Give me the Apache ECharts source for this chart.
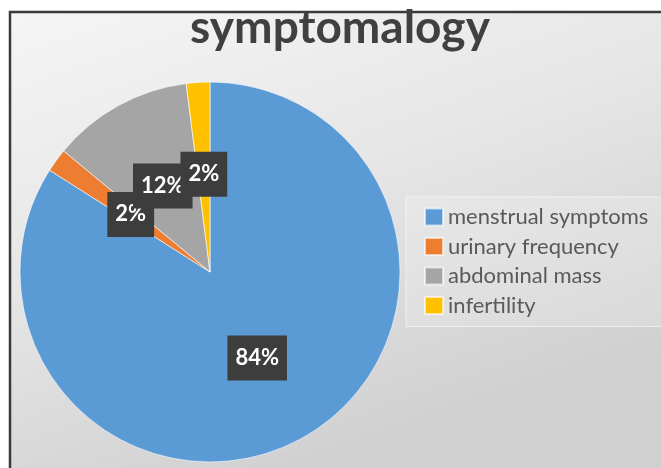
<!DOCTYPE html>
<html>
<head>
<meta charset="utf-8">
<script src="https://cdn.jsdelivr.net/npm/echarts@6/dist/echarts.min.js"></script>
<style>
  html, body { margin: 0; padding: 0; background: #ffffff; }
  #chart { width: 661px; height: 468px; }
</style>
</head>
<body>
<div id="chart"></div>
<script>
// Symptom shares (percent of patients)
const categories = ['menstrual symptoms', 'urinary frequency', 'abdominal mass', 'infertility'];
const shares = [84, 2, 12, 2];
const sliceColors = ['#5b9bd5', '#ed7d31', '#a5a5a5', '#ffc000'];
const chartTitle = 'symptomalogy';

const chart = echarts.init(document.getElementById('chart'), null, { renderer: 'canvas' });

chart.setOption({
  backgroundColor: '#ffffff',
  animation: false,
  graphic: [{
    type: 'rect',
    z: -100,
    shape: { x: 10, y: 12, width: 700, height: 500 },
    style: {
      fill: {
        type: 'linear', x: 0, y: 0, x2: 0.25, y2: 1,
        colorStops: [
          { offset: 0, color: '#f5f5f5' },
          { offset: 0.5, color: '#e6e6e6' },
          { offset: 1, color: '#d0d0d0' }
        ]
      },
      stroke: '#3a3a3a',
      lineWidth: 2.5
    }
  }],
  title: {
    text: chartTitle,
    left: 335,
    textAlign: 'center',
    top: 0,
    textStyle: {
      fontFamily: 'Lato',
      fontWeight: 'bold',
      fontSize: 46,
      color: '#404040'
    }
  },
  legend: {
    orient: 'vertical',
    left: 406,
    top: 197,
    padding: [9, 30, 10, 18],
    backgroundColor: 'rgba(255,255,255,0.18)',
    borderColor: 'rgba(255,255,255,0.55)',
    borderWidth: 1,
    itemWidth: 18,
    itemHeight: 17,
    itemGap: 7.5,
    icon: 'rect',
    data: categories,
    textStyle: {
      fontFamily: 'Lato',
      fontSize: 22,
      lineHeight: 22,
      color: '#595959'
    }
  },
  series: [{
    type: 'pie',
    center: [210, 272],
    radius: 190,
    startAngle: 90,
    clockwise: true,
    silent: true,
    avoidLabelOverlap: false,
    minShowLabelAngle: 0,
    labelLayout: { hideOverlap: false },
    itemStyle: {
      borderColor: 'rgba(255,255,255,0.6)',
      borderWidth: 1
    },
    label: {
      show: true,
      position: 'inside',
      formatter: '{c}%',
      fontFamily: 'Lato',
      fontWeight: 'bold',
      fontSize: 22,
      lineHeight: 25,
      color: '#ffffff',
      backgroundColor: '#3d3d3d',
      padding: [10, 8]
    },
    labelLine: { show: false },
    data: categories.map((name, i) => ({
      name: name,
      value: shares[i],
      itemStyle: { color: sliceColors[i] }
    }))
  }]
});
</script>
</body>
</html>
